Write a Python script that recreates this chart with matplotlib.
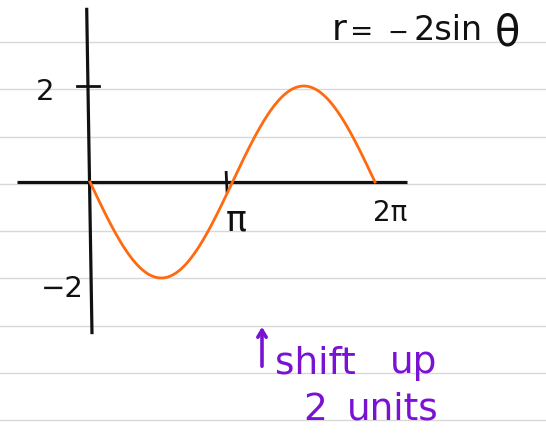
import numpy as np
import matplotlib
matplotlib.use("Agg")
import matplotlib.pyplot as plt

# r = -2 sin(theta), graphed over one period
amplitude = 2
theta = np.linspace(0, 2 * np.pi, 400)
r = -amplitude * np.sin(theta)

x_tick_pos = [np.pi, 2 * np.pi]
x_tick_labels = ["π", "2π"]
y_tick_pos = [2, -2]
y_tick_labels = ["2", "−2"]
equation_parts = ["r", "=", "−", "2sin", "θ"]
note_words = [["shift", "up"], ["2", "units"]]

INK = "#111111"
ORANGE = "#ff6a10"
PURPLE = "#7a12d4"
RULE = "#d8d8d8"

W, H = 546, 438
X0, XS = 90, 45.36   # page x of theta=0, pixels per radian
Y0, YS = 182, 48     # page y of r=0, pixels per unit


def page(x, y):
    # page pixel position -> data coordinates
    return (x - X0) / XS, (Y0 - y) / YS


fig = plt.figure(figsize=(W / 100, H / 100), dpi=100)
fig.patch.set_facecolor("white")

# ruled notebook lines across the whole page
for k in range(9):
    y = 1 - (42 + 47.25 * k) / H
    fig.add_artist(plt.Line2D([0, 1], [y, y], color=RULE, lw=1.0, zorder=0))

ax = fig.add_axes([0, 0, 1, 1])
ax.set_xlim(page(0, 0)[0], page(W, 0)[0])
ax.set_ylim(page(0, H)[1], page(0, 0)[1])
ax.axis("off")
ax.patch.set_alpha(0)

# hand-drawn axes
ax.plot([-1.61, 6.99], [0, 0], color=INK, lw=2.3, solid_capstyle="butt", zorder=2)
ax.plot([-0.073, 0.044], [3.63, -3.17], color=INK, lw=2.3, solid_capstyle="butt", zorder=2)

# tick at pi on the theta axis, tick at 2 on the r axis
ax.plot([x_tick_pos[0] - 0.14, x_tick_pos[0] - 0.12], [0.2, -0.2], color=INK, lw=2.0, zorder=2)
ax.plot([-0.28, 0.2], [y_tick_pos[0], y_tick_pos[0]], color=INK, lw=2.0, zorder=2)

ax.plot(theta, r, color=ORANGE, lw=2.0, zorder=3)

font = dict(family="DejaVu Sans", color=INK)
ax.text(x_tick_pos[0] + 0.08, -0.80, x_tick_labels[0], fontsize=25, ha="center", va="center", **font)
ax.text(x_tick_pos[1] + 0.33, -0.65, x_tick_labels[1], fontsize=20, ha="center", va="center", **font)
ax.text(-0.99, y_tick_pos[0] - 0.13, y_tick_labels[0], fontsize=21, ha="center", va="center", **font)
ax.text(-0.62, y_tick_pos[1] - 0.23, y_tick_labels[1], fontsize=21, ha="center", va="center", **font)

# equation written piece by piece along the top line
eq_x = [332, 350, 387, 413, 495]
eq_base = [40, 40, 40, 40, 45]
eq_size = [26, 20, 18, 24, 30]
for part, x, yb, fs in zip(equation_parts, eq_x, eq_base, eq_size):
    ax.text(*page(x, yb), part, fontsize=fs, ha="left", va="baseline", **font)

# purple note with its arrow
ax.annotate("", xy=page(262, 324), xytext=page(262, 369),
            arrowprops=dict(arrowstyle="->,head_width=0.3,head_length=0.5",
                            color=PURPLE, lw=2.6), zorder=4)
word_x = [[275, 390], [303, 347]]
word_base = [373, 420]
for words, xs, yb in zip(note_words, word_x, word_base):
    for word, x in zip(words, xs):
        ax.text(*page(x, yb), word, fontsize=27, color=PURPLE, ha="left",
                va="baseline", family="DejaVu Sans")

fig.savefig("out.png", dpi=100, facecolor="white")
